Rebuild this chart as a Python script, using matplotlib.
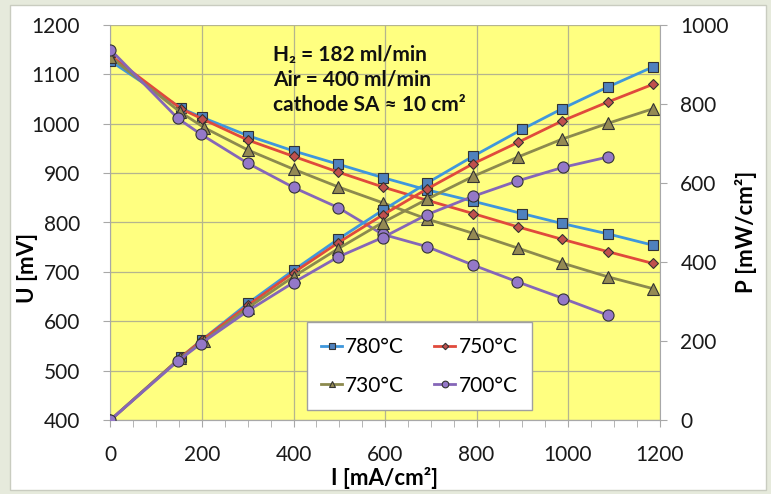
import matplotlib
matplotlib.use("Agg")
import matplotlib.pyplot as plt
from matplotlib.patches import Rectangle
from matplotlib.ticker import MultipleLocator

plt.rcParams['font.family'] = ['Lato', 'DejaVu Sans']

# ---- data ----
I_780 = [0, 155, 200, 300, 400, 498, 595, 692, 793, 900, 987, 1087, 1186]
U_780 = [1127, 1031, 1013, 976, 945, 918, 891, 866, 843, 818, 798, 777, 754]
P_780 = [0, 160, 203, 295, 379, 458, 531, 600, 668, 736, 788, 843, 894]

I_750 = [0, 155, 200, 300, 400, 498, 595, 692, 793, 891, 987, 1087, 1186]
U_750 = [1138, 1030, 1010, 967, 934, 902, 872, 845, 818, 791, 766, 741, 717]
P_750 = [0, 160, 202, 290, 373, 449, 519, 585, 649, 703, 757, 805, 850]

I_730 = [0, 152, 205, 300, 400, 498, 595, 692, 793, 891, 987, 1087, 1186]
U_730 = [1135, 1024, 992, 947, 908, 872, 840, 807, 778, 748, 718, 690, 666]
P_730 = [0, 156, 201, 284, 363, 434, 500, 559, 617, 666, 711, 751, 788]

I_700 = [0, 147, 197, 300, 400, 498, 595, 692, 792, 889, 990, 1088]
U_700 = [1150, 1011, 979, 920, 871, 830, 776, 751, 714, 680, 646, 612]
P_700 = [0, 149, 193, 276, 348, 413, 462, 520, 566, 605, 640, 666]

labels = ["780°C", "750°C", "730°C", "700°C"]
annotation = ["H₂ = 182 ml/min", "Air = 400 ml/min", "cathode SA ≈ 10 cm²"]

# ---- styles ----
line_colors = ['#3F97DC', '#E04A3C', '#8C8A4E', '#8566B8']
face_colors = ['#4F81BD', '#C0504D', '#948A54', '#9478C8']
markers = ['s', 'D', '^', 'o']
msizes = [7.5, 5.5, 8, 8]

W, H = 771, 494
fig = plt.figure(figsize=(W / 100, H / 100), dpi=100, facecolor='#E6EADC')

def fx(px):
    return px / W

def fy(py):
    return 1 - py / H

fig.patches.append(Rectangle((fx(10), fy(490)), (766 - 10) / W, (490 - 5) / H,
                             transform=fig.transFigure, facecolor='white',
                             edgecolor='#C9CCC0', lw=1, zorder=-10))

ax = fig.add_axes([fx(110.5), fy(420), (659.5 - 110.5) / W, (420 - 25) / H])
ax.set_facecolor('#FFFF80')
ax2 = ax.twinx()

series = [(I_780, U_780, P_780), (I_750, U_750, P_750),
          (I_730, U_730, P_730), (I_700, U_700, P_700)]
handles = []
for k, (I, U, P) in enumerate(series):
    h, = ax.plot(I, U, color=line_colors[k], lw=2, marker=markers[k],
                 ms=msizes[k], mfc=face_colors[k], mec='#333333', mew=0.8,
                 label=labels[k], zorder=3)
    ax2.plot(I, P, color=line_colors[k], lw=2, marker=markers[k],
             ms=msizes[k], mfc=face_colors[k], mec='#333333', mew=0.8,
             zorder=3)
    handles.append(h)

ax.set_xlim(0, 1200)
ax.set_ylim(400, 1200)
ax2.set_ylim(0, 1000)
ax.xaxis.set_major_locator(MultipleLocator(200))
ax.xaxis.set_minor_locator(MultipleLocator(50))
ax.yaxis.set_major_locator(MultipleLocator(100))
ax2.yaxis.set_major_locator(MultipleLocator(200))

ax.grid(True, which='major', color='#B5B58E', lw=0.9)
ax.set_axisbelow(True)

for a in (ax, ax2):
    for s in a.spines.values():
        s.set_color('#A8A8A8')
    a.spines['top'].set_visible(False)
ax2.spines['left'].set_visible(False)
ax.spines['right'].set_visible(False)

tick_fs = 15
ax.tick_params(axis='y', which='major', direction='out', length=5, color='#A8A8A8',
               labelsize=tick_fs, pad=17, labelcolor='#1A1A1A')
ax.tick_params(axis='x', which='both', direction='out', length=5, color='#A8A8A8',
               labelsize=tick_fs, pad=13, labelcolor='#1A1A1A')
ax2.tick_params(axis='y', which='major', direction='out', length=5, color='#A8A8A8',
                labelsize=tick_fs, pad=10, labelcolor='#1A1A1A')

# axis titles
fig.text(fx(385), fy(478), "I [mA/cm²]", ha='center', va='center',
         fontsize=16, fontweight='bold')
fig.text(fx(27), fy(268), "U [mV]", ha='center', va='center', rotation=90,
         fontsize=16, fontweight='bold')
fig.text(fx(746), fy(232), "P [mW/cm²]", ha='center', va='center', rotation=90,
         fontsize=16, fontweight='bold')

# annotation
for txt, yy in zip(annotation, [55, 80, 105]):
    fig.text(fx(273), fy(yy), txt, ha='left', va='center', fontsize=15,
             fontweight='bold', color='#111111')

leg = ax.legend([handles[0], handles[2], handles[1], handles[3]],
                [labels[0], labels[2], labels[1], labels[3]],
                ncol=2, loc='upper left',
                bbox_to_anchor=(fx(306.7), fy(322.3)), bbox_transform=fig.transFigure,
                fontsize=15, frameon=True, fancybox=False, framealpha=1,
                edgecolor='#A0A0A0', markerscale=0.6, handlelength=1.0,
                handletextpad=0.15, columnspacing=1.45, labelspacing=0.9,
                borderpad=0.7, borderaxespad=0)
leg.get_frame().set_linewidth(1.0)
leg.set_zorder(10)

fig.savefig("out.png", dpi=100, facecolor=fig.get_facecolor())
